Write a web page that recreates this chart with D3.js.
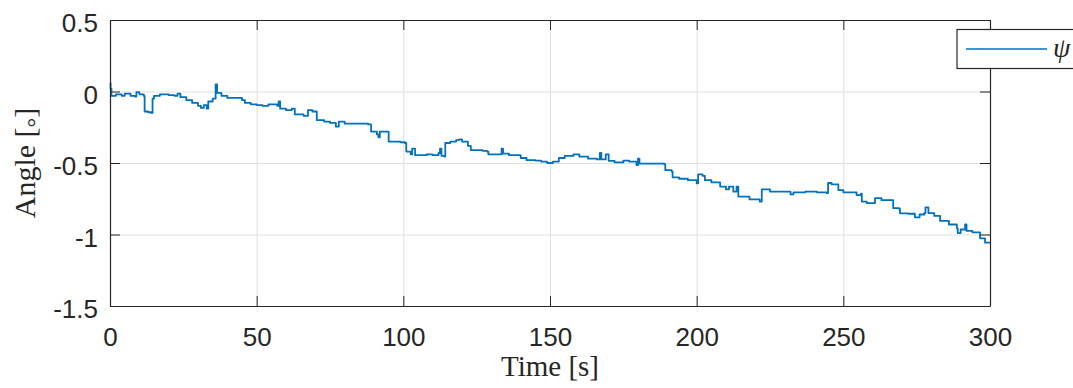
<!DOCTYPE html>
<html>
<head>
<meta charset="utf-8">
<script src="https://cdnjs.cloudflare.com/ajax/libs/d3/7.8.5/d3.min.js"></script>
<style>
  body { margin: 0; background: #fff; }
  svg { display: block; }
  .tick text { font-family: "Liberation Sans", Arial, sans-serif; font-size: 26px; fill: #262626; }
  .axis path, .axis line { stroke: #262626; }
  .grid line { stroke: #dfdfdf; }
  .grid path { display: none; }
  .label { font-family: "Liberation Serif", "Times New Roman", serif; font-size: 30px; fill: #262626; }
</style>
</head>
<body>
<div id="chart"></div>
<script>
// data: time [s] and yaw angle [deg]
var timeVals = [0, 0.2, 0.5, 2, 4, 5, 7, 8.5, 9, 10, 11.5, 11.8, 13, 14, 14.5, 15, 17, 20, 22, 23,
  24, 26, 28, 30, 31, 32, 33, 33.5, 35, 36, 36.5, 38, 40, 43, 45, 46, 48, 50, 52, 54,
  57, 57.5, 58, 60, 62, 63, 66, 67.5, 69, 70.5, 73, 75, 77, 78, 80, 84, 88, 89, 91, 91.5,
  92, 94.3, 95, 99, 100.5, 101, 102.5, 103, 104, 108, 110, 112, 112.5, 113, 114, 114.3, 116, 118, 119, 120,
  122, 123, 127, 128.5, 129, 131, 133, 133.5, 134, 136, 140, 142, 145, 147, 149, 151, 153, 155, 158, 160,
  163, 166, 167, 167.5, 168.8, 169, 170, 172, 175, 177, 179.5, 180, 180.5, 186, 189, 189.3, 191.5, 191.8, 194, 197,
  200, 200.5, 202, 202.8, 205, 208, 210, 211, 212.5, 213.6, 214.2, 218, 221.5, 222.2, 225, 230, 232, 233, 237, 241,
  244.3, 244.8, 246, 248.3, 250, 254.5, 256, 256.3, 258, 260.8, 263, 266.5, 267, 269, 269.3, 272, 274.4, 276, 277.6, 278,
  279, 281, 283, 286, 288.7, 289, 290, 291.5, 292, 294, 296.6, 298.3, 300];
var angleVals = [0.06, 0.02, -0.03, -0.02, -0.03, -0.015, -0.03, -0.035, -0.005, -0.02, -0.03, -0.14, -0.145, -0.15, -0.05, -0.03, -0.02, -0.025, -0.03, -0.015,
  -0.04, -0.06, -0.08, -0.1, -0.115, -0.095, -0.12, -0.07, -0.05, 0.05, -0.01, -0.03, -0.045, -0.045, -0.06, -0.08, -0.09, -0.095, -0.1, -0.09,
  -0.1, -0.07, -0.12, -0.13, -0.12, -0.16, -0.17, -0.13, -0.14, -0.2, -0.21, -0.22, -0.245, -0.21, -0.225, -0.225, -0.23, -0.28, -0.3, -0.32,
  -0.28, -0.28, -0.35, -0.355, -0.36, -0.42, -0.44, -0.4, -0.445, -0.44, -0.445, -0.43, -0.4, -0.45, -0.455, -0.36, -0.35, -0.34, -0.335, -0.35,
  -0.38, -0.41, -0.415, -0.42, -0.44, -0.44, -0.44, -0.4, -0.435, -0.445, -0.465, -0.48, -0.484, -0.49, -0.5, -0.49, -0.465, -0.45, -0.44, -0.455,
  -0.47, -0.475, -0.43, -0.475, -0.475, -0.44, -0.485, -0.495, -0.484, -0.49, -0.515, -0.47, -0.505, -0.505, -0.51, -0.55, -0.56, -0.6, -0.61, -0.62,
  -0.642, -0.58, -0.59, -0.62, -0.635, -0.665, -0.685, -0.665, -0.7, -0.666, -0.735, -0.755, -0.77, -0.685, -0.7, -0.7, -0.72, -0.705, -0.7, -0.705,
  -0.71, -0.64, -0.65, -0.69, -0.705, -0.724, -0.715, -0.77, -0.78, -0.745, -0.76, -0.76, -0.815, -0.82, -0.852, -0.855, -0.88, -0.86, -0.85, -0.81,
  -0.85, -0.87, -0.905, -0.93, -0.957, -0.99, -0.965, -0.93, -0.975, -0.985, -1.027, -1.057, -1.06];

var xTicks = [0, 50, 100, 150, 200, 250, 300];
var yTicks = [-1.5, -1, -0.5, 0, 0.5];
var seriesName = "\u03c8";

// set the dimensions and margins of the graph
var margin = {top: 20, right: 83, bottom: 82, left: 110};
var width = 1073 - margin.left - margin.right;
var height = 388 - margin.top - margin.bottom;

var lineColor = "#0072bd";

var svg = d3.select("#chart")
  .append("svg")
  .attr("width", 1073)
  .attr("height", 388)
  .append("g")
  .attr("transform", "translate(" + margin.left + "," + margin.top + ")");

var x = d3.scaleLinear().domain([0, 300]).range([0, width]);
var y = d3.scaleLinear().domain([-1.5, 0.5]).range([height, 0]);

// matlab style labels (plain hyphen)
var fmt = d => String(d);

// grid
svg.append("g")
  .attr("class", "grid")
  .attr("transform", "translate(0," + height + ")")
  .call(d3.axisBottom(x).tickValues(xTicks).tickSize(-height).tickFormat(""));
svg.append("g")
  .attr("class", "grid")
  .call(d3.axisLeft(y).tickValues(yTicks).tickSize(-width).tickFormat(""));

// the line (sensor output is quantised, so draw it as steps)
var data = timeVals.map((t, i) => ({t: t, v: angleVals[i]}));
var line = d3.line()
  .curve(d3.curveStepAfter)
  .x(d => x(d.t))
  .y(d => y(d.v));

svg.append("path")
  .datum(data)
  .attr("fill", "none")
  .attr("stroke", lineColor)
  .attr("stroke-width", 1.8)
  .attr("stroke-linejoin", "round")
  .attr("d", line);

// axes, ticks pointing inward
var xAxis = svg.append("g")
  .attr("class", "axis")
  .attr("transform", "translate(0," + height + ")")
  .call(d3.axisBottom(x).tickValues(xTicks).tickSizeInner(-10).tickSizeOuter(0).tickPadding(18).tickFormat(fmt));
xAxis.selectAll(".tick text").attr("dy", "0.85em");

var yAxis = svg.append("g")
  .attr("class", "axis")
  .call(d3.axisLeft(y).tickValues(yTicks).tickSizeInner(-10).tickSizeOuter(0).tickPadding(12).tickFormat(fmt));
yAxis.selectAll(".tick text").attr("dy", "0.45em");

svg.append("g")
  .attr("class", "axis")
  .call(d3.axisTop(x).tickValues(xTicks).tickSizeInner(-10).tickSizeOuter(0).tickFormat(""));
svg.append("g")
  .attr("class", "axis")
  .attr("transform", "translate(" + width + ",0)")
  .call(d3.axisRight(y).tickValues(yTicks).tickSizeInner(-10).tickSizeOuter(0).tickFormat(""));

svg.selectAll(".axis path").attr("stroke-width", 1.2);

// axis labels
svg.append("text")
  .attr("class", "label")
  .attr("x", width / 2)
  .attr("y", height + 70)
  .style("text-anchor", "middle")
  .style("font-size", "29px")
  .text("Time [s]");

var yLab = svg.append("text")
  .attr("class", "label")
  .attr("transform", "translate(" + (-75) + "," + (height / 2) + ") rotate(-90)")
  .style("text-anchor", "middle");
yLab.append("tspan").text("Angle [");
yLab.append("tspan").attr("dy", 9).style("font-size", "24px").text("\u00b0");
yLab.append("tspan").attr("dy", -9).text("]");

//=========================== legend ===========================
var legend = d3.select("#chart svg").append("g")
  .attr("transform", "translate(957,29.5)");

legend.append("rect")
  .attr("width", 140)
  .attr("height", 39)
  .attr("fill", "#fff")
  .attr("stroke", "#262626")
  .attr("stroke-width", 1.2);

legend.append("line")
  .attr("x1", 9).attr("x2", 90)
  .attr("y1", 19.5).attr("y2", 19.5)
  .attr("stroke", lineColor)
  .attr("stroke-width", 1.4);

legend.append("text")
  .attr("class", "label")
  .attr("x", 96)
  .attr("y", 27)
  .style("font-style", "italic")
  .style("font-size", "28px")
  .text(seriesName);
</script>
</body>
</html>
